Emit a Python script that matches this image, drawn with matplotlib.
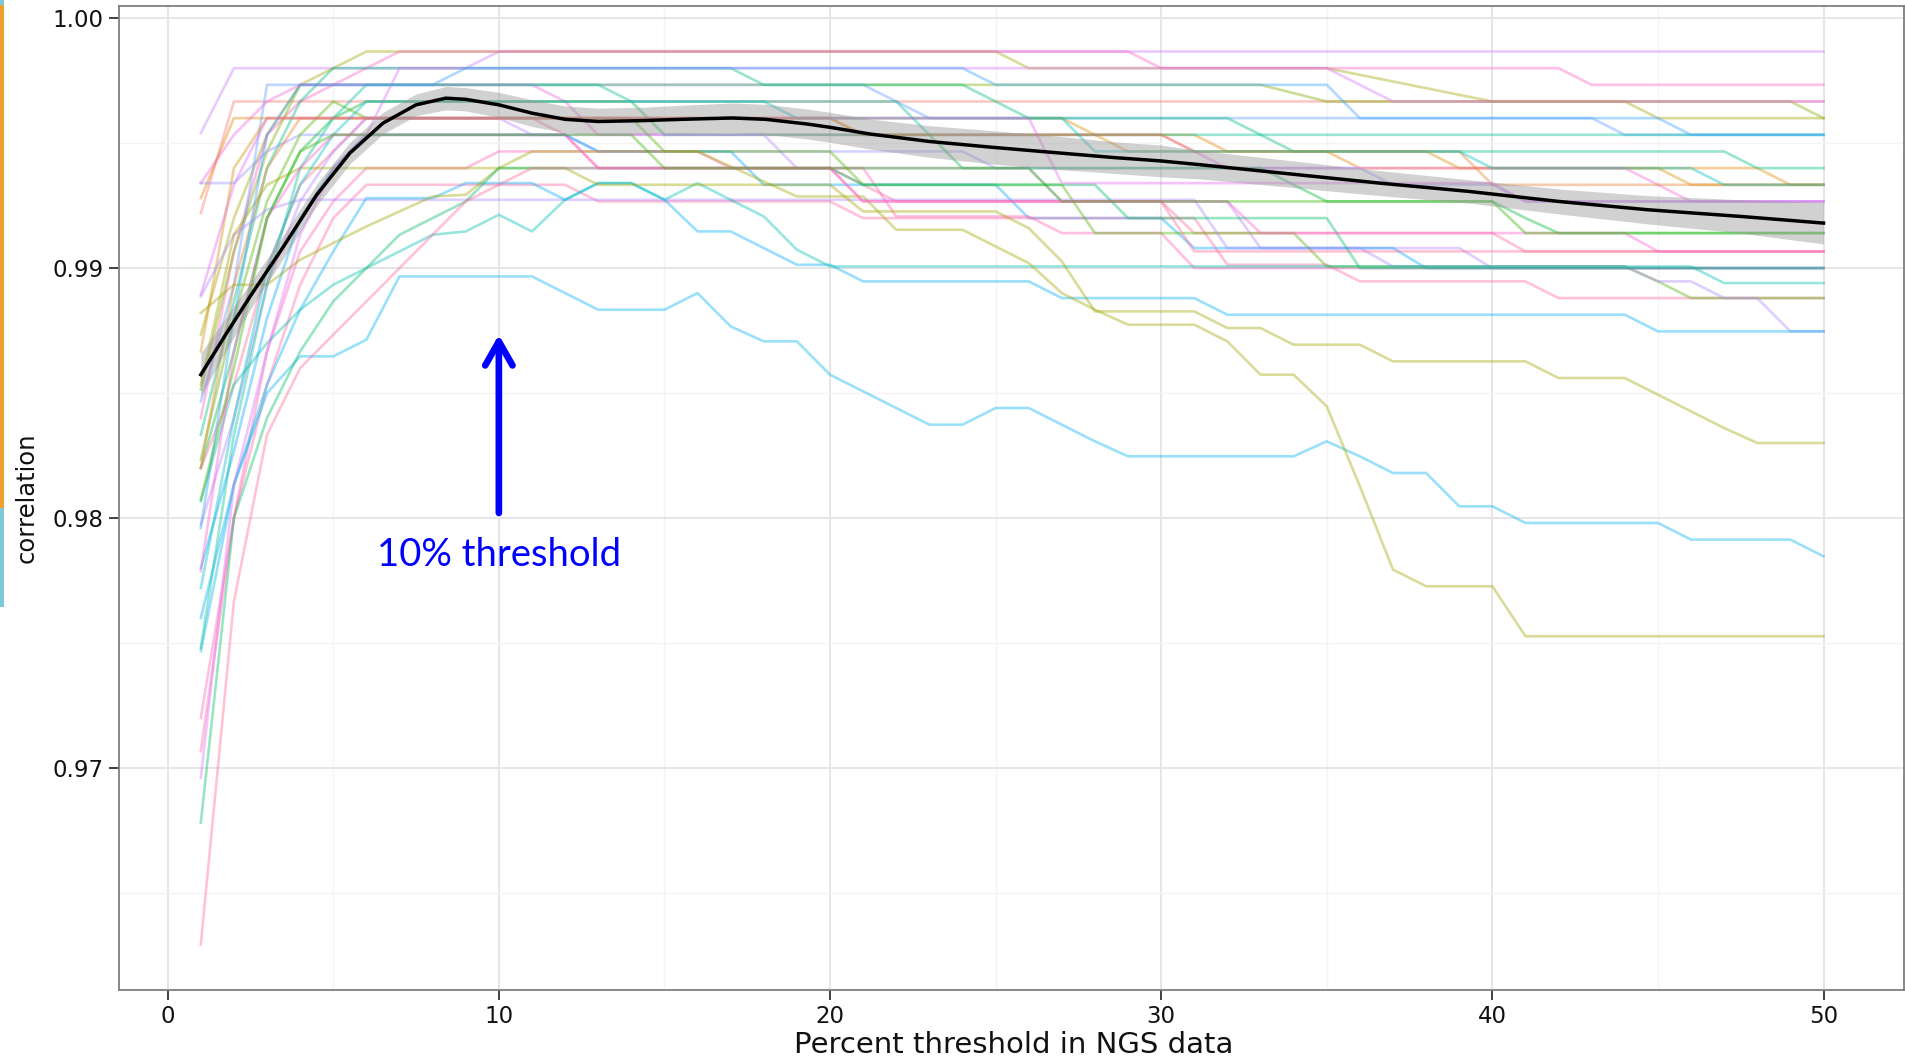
import matplotlib
matplotlib.use('Agg')
import matplotlib.pyplot as plt
import numpy as np
from matplotlib.patches import Rectangle, ArrowStyle

# correlation per sample vs threshold.
# each sample is run-length coded as (deficit, count) where deficit is in
# steps of 1/1500 below a correlation of 1.0
STEP = 1 / 1500.0
thresholds = np.arange(1, 51)

samples = [
    [(6.9, 1), (3, 8), (2, 41)],
    [(19, 1), (12, 1), (7, 1), (4, 1), (3, 1), (2, 20), (3, 10), (3.4, 1), (3.8, 1), (4.2, 1), (4.6, 1), (5, 5), (6, 6)],
    [(24, 1), (14, 1), (7, 1), (5, 1), (4, 1), (3, 1), (2, 23), (3, 13), (4, 8)],
    [(11.7, 1), (5, 49)],
    [(10.8, 1), (6, 19), (7, 11), (8, 4), (9, 13), (10, 2)],
    [(22.3, 1), (14, 1), (8, 1), (4, 30), (4.5, 1), (5, 15), (6, 1)],
    [(23, 1), (16, 1), (4, 19), (5, 1), (6, 21), (7, 7)],
    [(25, 1), (17, 1), (9, 1), (5, 1), (3, 13), (4, 7), (5, 1), (6, 7), (7, 1), (8, 14), (9, 3)],
    [(20, 1), (9, 1), (6, 25), (7, 1), (8, 10), (9, 7), (10, 5)],
    [(9.9, 1), (7, 1), (5, 1), (4, 8), (5, 1), (7, 18), (8, 1), (9, 13), (10, 1), (11, 5)],
    [(9.9, 2), (8, 1), (7, 9), (8, 12), (9, 12), (10, 4), (11, 10)],
    [(27, 1), (20, 1), (12, 1), (8, 1), (6, 1), (5, 9), (7, 9), (9, 10), (10, 1), (11, 6), (12, 1), (12.9, 9)],
    [(27, 1), (22, 1), (15, 1), (10, 1), (8, 1), (6, 6), (7, 1), (9, 8), (10, 1), (11, 9), (12.9, 10), (14, 10)],
    [(30.4, 1), (24, 1), (16, 1), (11, 1), (8, 1), (6, 5), (7, 8), (9, 8), (11, 6), (13.8, 7), (15, 11)],
    [(33, 1), (26, 1), (18, 1), (12, 1), (9, 1), (7, 7), (8, 5), (10, 8), (12, 5), (13.8, 7), (15, 13)],
    [(42, 1), (30, 1), (20, 1), (14, 1), (11, 1), (9, 4), (8, 7), (9, 5), (11.9, 5), (12.9, 4), (15, 20)],
    [(44, 1), (30, 1), (22, 1), (16, 1), (12, 1), (10, 7), (11, 8), (12, 11), (14.8, 4), (15.8, 6), (16.8, 9)],
    [(26.5, 1), (18, 1), (11, 1), (7, 1), (5, 1), (6, 9), (8, 6), (10, 7), (12.9, 7), (14.9, 10), (15.8, 1), (16.8, 5)],
    [(16.7, 1), (13, 1), (11.5, 1), (10.9, 28), (13.8, 5), (14.9, 8), (15.8, 2), (16.8, 2), (18.8, 2)],
    [(36, 1), (28, 1), (22, 1), (17.5, 1), (14, 1), (10.8, 3), (9.9, 3), (10.9, 1), (9.9, 2), (10.9, 1),
     (12.8, 2), (13.8, 1), (14.8, 2), (15.8, 6), (16.8, 5), (17.8, 13), (18.8, 6)],
    [(29, 1), (22, 1), (19.5, 1), (17.5, 1), (16, 1), (15, 1), (14, 1), (13, 1), (12.8, 1), (11.8, 1),
     (12.8, 1), (10.9, 1), (9.9, 2), (10.9, 1), (9.9, 1), (10.9, 1), (11.9, 1), (13.9, 1), (14.9, 27), (15.9, 4)],
    [(38, 1), (28, 1), (22.5, 1), (20.3, 2), (19.3, 1), (15.5, 5), (16.5, 1), (17.5, 3), (16.5, 1), (18.5, 1),
     (19.4, 2), (21.4, 1), (22.4, 1), (23.4, 1), (24.4, 2), (23.4, 2), (24.4, 1), (25.4, 1), (26.3, 6),
     (25.4, 1), (26.3, 1), (27.3, 2), (29.3, 2), (30.3, 5), (31.3, 4), (32.3, 1)],
    [(17.7, 1), (16, 2), (14.5, 1), (13.5, 1), (12.5, 1), (11.6, 1), (10.7, 1), (10.6, 1), (9, 1), (8, 6),
     (8.9, 1), (9.8, 1), (10.7, 3), (12.7, 3), (13.7, 1), (14.7, 1), (16.5, 1), (17.5, 1), (18.4, 3),
     (19.4, 1), (21.4, 2), (23.3, 1), (28.1, 1), (33.1, 1), (34.1, 3), (37.1, 10)],
    [(22, 1), (13, 1), (10, 1), (9, 9), (10, 8), (11.6, 5), (12.6, 1), (14.6, 1), (17.6, 4), (18.6, 2),
     (19.6, 3), (20.6, 5), (21.6, 3), (22.6, 1), (23.6, 1), (24.6, 1), (25.5, 3)],
    [(48.3, 1), (30, 1), (24, 1), (20, 1), (17, 1), (15, 1), (13, 1), (12, 1), (11, 1), (9, 11), (10, 8), (12, 7), (15, 15)],
    [(55.6, 1), (35, 1), (25, 1), (21, 1), (19, 1), (17, 1), (15, 1), (13, 1), (11, 1), (10, 1), (9, 10), (11, 10), (14, 20)],
    [(45.6, 1), (28, 1), (20, 1), (13, 1), (9, 1), (7, 1), (3, 29), (4, 1), (5, 14)],
    [(37.8, 1), (25, 1), (16, 1), (9, 1), (6, 1), (4, 8), (5, 9), (7, 28)],
    [(27, 1), (16, 1), (9, 1), (6, 17), (7, 10), (8, 9), (10, 11)],
    [(34.2, 1), (24, 1), (15, 1), (10, 1), (7, 1), (5, 13), (6, 9), (8, 12), (9, 7), (10, 4)],
    [(33.2, 1), (20, 1), (12, 1), (9, 1), (7, 8), (9, 8), (11, 12), (12.9, 12), (14, 6)],
    [(30.6, 1), (18, 1), (7, 1), (4, 5), (3, 16), (4, 11), (6, 10), (7, 5)],
    [(16.6, 1), (10, 1), (6, 24), (9.9, 14), (11, 10)],
    [(28.9, 1), (21, 1), (12, 1), (8, 1), (7, 10), (9, 12), (11, 14), (12.9, 10)],
]

colors = ['#C77CFF', '#A3A500', '#FF61C3', '#F8766D', '#E58700', '#7CAE00', '#619CFF',
          '#00BF7D', '#D89000', '#F564E3', '#9590FF', '#00BA38', '#FF6C91', '#B983FF',
          '#00A9FF', '#FF62BC', '#FF67A4', '#53B400', '#AE87FF', '#00B0F6', '#00C0AF',
          '#00B4EF', '#A3A500', '#A3A500', '#00BE67', '#FF6A98', '#DC71FA', '#00C19A',
          '#EA8331', '#00BFC4', '#FD61D1', '#35A2FF', '#E76BF3', '#39B600']

# loess curve and its band (same deficit units)
smooth_x = [1, 1.78, 2.49, 3.5, 4.5, 5.5, 6.5, 7.5, 8.4, 9, 10, 11, 12, 13, 14.3, 15.55, 17.05,
            18.05, 19.3, 20, 21.2, 23, 24.9, 26.8, 28.6, 30, 31.2, 33.9, 36.6, 39.3, 42, 44.7, 47.5, 50]
smooth_k = [21.4, 18.9, 16.7, 13.7, 10.6, 8.1, 6.3, 5.2, 4.8, 4.87, 5.2, 5.7, 6.07, 6.2, 6.15, 6.07,
            5.99, 6.07, 6.35, 6.55, 6.95, 7.4, 7.75, 8.07, 8.37, 8.57, 8.8, 9.35, 9.9, 10.4, 11.0, 11.5, 11.9, 12.3]
band_k = [1.3, 1.0, 0.8, 0.7, 0.65, 0.65, 0.65, 0.65, 0.7, 0.7, 0.75, 0.8, 0.8, 0.8, 0.8, 0.85, 0.9,
          0.9, 0.9, 0.9, 0.9, 0.95, 1.0, 1.0, 0.95, 0.95, 0.85, 0.8, 0.75, 0.7, 0.75, 0.85, 1.0, 1.25]


def expand(runs):
    k = np.concatenate([np.full(n, v, dtype=float) for v, n in runs])
    assert len(k) == len(thresholds), runs
    return 1 - k * STEP


fig = plt.figure(figsize=(19.05, 10.58), dpi=100)
ax = fig.add_axes([0.06247, 0.06427, 0.9370, 0.93006])

for runs, c in zip(samples, colors):
    ax.plot(thresholds, expand(runs), color=c, alpha=0.4, lw=1.9, zorder=2)

sx = np.array(smooth_x)
sy = 1 - np.array(smooth_k) * STEP
hw = np.array(band_k) * STEP
ax.fill_between(sx, sy - hw, sy + hw, color='#999999', alpha=0.45, lw=0, zorder=3)
ax.plot(sx, sy, color='black', lw=2.5, zorder=4)

ax.annotate('', xy=(10, 0.98733), xytext=(10, 0.98020),
            arrowprops=dict(arrowstyle=ArrowStyle('->', head_length=0.42, head_width=0.24),
                            color='#0000FF', lw=4.8, mutation_scale=41, shrinkA=0, shrinkB=0),
            zorder=5)
ax.text(10, 0.97806, '10% threshold', color='#0000FF', fontsize=27.5,
        family=['Lato', 'DejaVu Sans'], ha='center', va='baseline', zorder=5)

ax.set_xlim(-1.47, 52.43)
ax.set_ylim(0.96111, 1.000488)
ax.set_xticks([0, 10, 20, 30, 40, 50])
ax.set_xticks([5, 15, 25, 35, 45], minor=True)
ax.set_yticks([0.97, 0.98, 0.99, 1.00])
ax.set_yticklabels(['0.97', '0.98', '0.99', '1.00'])
ax.set_yticks([0.965, 0.975, 0.985, 0.995], minor=True)
ax.grid(which='major', color='#E6E6E6', lw=1.4)
ax.grid(which='minor', color='#F4F4F4', lw=1.0)
ax.set_axisbelow(True)
for s in ax.spines.values():
    s.set_color('#7F7F7F')
    s.set_linewidth(1.3)
ax.tick_params(which='major', direction='out', length=7, width=1.3, color='#333333',
               labelsize=16.5, labelcolor='#111111', pad=4)
ax.tick_params(which='minor', length=0)

fig.text(1013.5 / 1905, 1 - 1053 / 1058, 'Percent threshold in NGS data', fontsize=21,
         color='#111111', ha='center', va='baseline')
fig.text(27 / 1905, 1 - 498 / 1058, 'correlation', fontsize=17.5, color='#111111',
         rotation=90, ha='center', va='center')

# slide decoration strips on the left edge
fig.patches.append(Rectangle((0, 1 - 5 / 1058), 4 / 1905, 5 / 1058, transform=fig.transFigure,
                             color='#7EC8D8', lw=0))
fig.patches.append(Rectangle((0, 1 - 508 / 1058), 4 / 1905, 503 / 1058, transform=fig.transFigure,
                             color='#F0A030', lw=0))
fig.patches.append(Rectangle((0, 1 - 607 / 1058), 4 / 1905, 99 / 1058, transform=fig.transFigure,
                             color='#7EC8D8', lw=0))

fig.savefig('out.png', dpi=100)
